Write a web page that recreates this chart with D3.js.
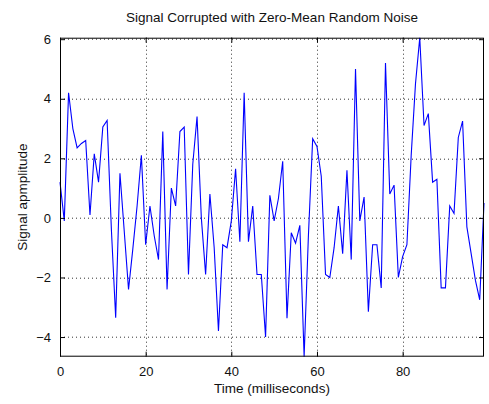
<!DOCTYPE html>
<html>
<head>
<meta charset="utf-8">
<script src="https://cdn.jsdelivr.net/npm/d3@7"></script>
<style>
  html, body { margin: 0; padding: 0; background: #ffffff; }
  svg { display: block; font-family: "Liberation Sans", Arial, sans-serif; }
</style>
</head>
<body>
<svg id="chart" width="489" height="404"></svg>
<script>
// ---- data ----
const timeMs = d3.range(0, 100); // sample times 0..99 ms
const signal = [
  1.2, -0.1, 4.2, 3.0, 2.35, 2.5, 2.6, 0.1, 2.15, 1.2,
  3.05, 3.27, -0.4, -3.35, 1.5, -0.45, -2.4, -1.05, 0.4, 2.1,
  -0.9, 0.4, -0.6, -1.4, 2.9, -2.4, 1.0, 0.4, 2.9, 3.05,
  -1.9, 1.8, 3.4, 0.0, -1.9, 0.8, -1.0, -3.8, -0.9, -1.0,
  -0.1, 1.65, -0.8, 4.2, -0.8, 0.4, -1.9, -1.9, -4.0, 0.76,
  -0.1, 0.65, 1.9, -3.37, -0.5, -0.85, -0.25, -4.66, -0.6, 2.66,
  2.4, 1.4, -1.9, -2.0, -1.0, 0.4, -1.2, 1.6, -1.4, 5.0,
  -0.1, 0.7, -3.15, -0.9, -0.9, -2.35, 5.2, 0.8, 1.1, -2.0,
  -1.3, -0.9, 2.1, 4.5, 6.05, 3.1, 3.5, 1.2, 1.3, -2.35,
  -2.35, 0.4, 0.15, 2.7, 3.25, -0.3, -1.2, -2.1, -2.75, 0.5
];
const xTicks = [0, 20, 40, 60, 80];
const yTicks = [-4, -2, 0, 2, 4, 6];
const titleText = "Signal Corrupted with Zero-Mean Random Noise";
const xLabel = "Time (milliseconds)";
const yLabel = "Signal apmplitude";

// ---- layout ----
const W = 489, H = 404;
const m = { left: 60, right: 5, top: 37.7, bottom: 47.3 };
const iw = W - m.left - m.right, ih = H - m.top - m.bottom;

const svg = d3.select("#chart");
const g = svg.append("g").attr("transform", `translate(${m.left},${m.top})`);

const x = d3.scaleLinear().domain([0, 99]).range([0, iw]);
const y = d3.scaleLinear().domain([d3.min(signal), d3.max(signal)]).range([ih, 0]);

// background
g.append("rect").attr("width", iw).attr("height", ih).attr("fill", "#fff");

// grid
const grid = g.append("g").attr("stroke", "#000").attr("stroke-width", 1)
  .attr("stroke-dasharray", "1,3").attr("opacity", 0.8);
grid.selectAll(".gx").data(xTicks.filter(t => t > 0)).join("line")
  .attr("x1", d => Math.round(x(d)) + 0.5).attr("x2", d => Math.round(x(d)) + 0.5)
  .attr("y1", 0).attr("y2", ih);
grid.selectAll(".gy").data(yTicks).join("line")
  .attr("y1", d => Math.round(y(d)) + 0.5).attr("y2", d => Math.round(y(d)) + 0.5)
  .attr("x1", 0).attr("x2", iw);

// line
const line = d3.line().x((d, i) => x(timeMs[i])).y(d => y(d));
g.append("path").datum(signal)
  .attr("fill", "none").attr("stroke", "#0000ff").attr("stroke-width", 1.1)
  .attr("stroke-linejoin", "miter").attr("d", line);

// axes (ticks pointing inward, on all four sides)
const styleAxis = sel => {
  sel.select(".domain").remove();
  sel.selectAll("line").attr("stroke", "#000");
  sel.selectAll("text").attr("font-size", 13).attr("fill", "#111")
    .attr("font-family", "Liberation Sans, Arial, sans-serif");
};
g.append("g").attr("transform", `translate(0,${ih})`)
  .call(d3.axisBottom(x).tickValues(xTicks).tickFormat(d3.format("d"))
    .tickSizeInner(-5).tickSizeOuter(0).tickPadding(10))
  .call(styleAxis);
g.append("g")
  .call(d3.axisLeft(y).tickValues(yTicks).tickFormat(d3.format("d"))
    .tickSizeInner(-5).tickSizeOuter(0).tickPadding(9))
  .call(styleAxis);
g.append("g")
  .call(d3.axisTop(x).tickValues(xTicks).tickFormat("").tickSizeInner(-5).tickSizeOuter(0))
  .call(styleAxis);
g.append("g").attr("transform", `translate(${iw},0)`)
  .call(d3.axisRight(y).tickValues(yTicks).tickFormat("").tickSizeInner(-5).tickSizeOuter(0))
  .call(styleAxis);

// box
g.append("rect").attr("x", 0.5).attr("y", 0.5).attr("width", iw - 1).attr("height", ih - 1)
  .attr("fill", "none").attr("stroke", "#000").attr("stroke-width", 1);

// texts
svg.append("text").attr("x", m.left + iw / 2).attr("y", 22)
  .attr("text-anchor", "middle").attr("font-size", 13.5).attr("fill", "#111").text(titleText);
svg.append("text").attr("x", m.left + iw / 2).attr("y", 393)
  .attr("text-anchor", "middle").attr("font-size", 13.5).attr("fill", "#111").text(xLabel);
svg.append("text").attr("transform", `translate(27,${m.top + ih / 2}) rotate(-90)`)
  .attr("text-anchor", "middle").attr("font-size", 13.5).attr("fill", "#111").text(yLabel);
</script>
</body>
</html>
